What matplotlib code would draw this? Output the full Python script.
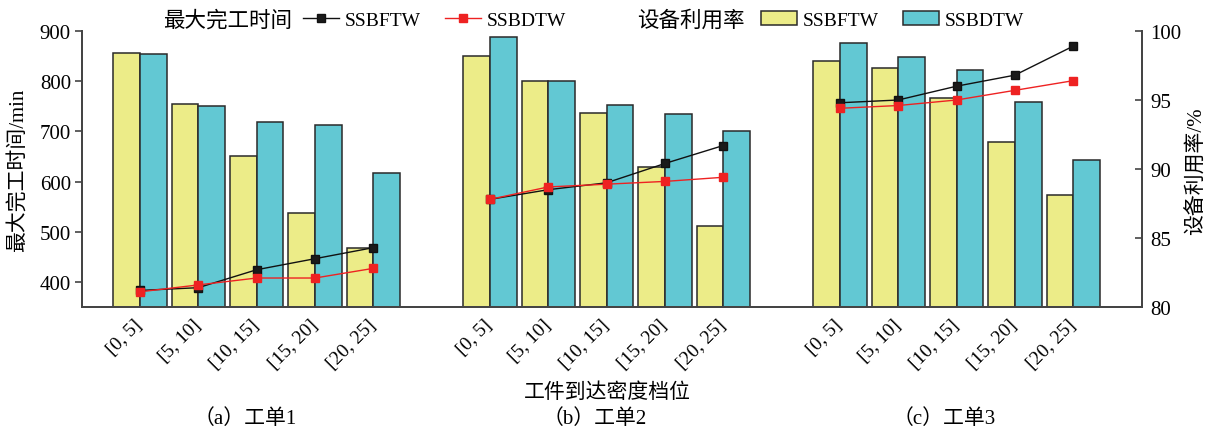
import matplotlib
matplotlib.use('Agg')
import matplotlib.pyplot as plt
from matplotlib.lines import Line2D
from matplotlib.patches import Patch
import numpy as np

plt.rcParams['font.family'] = ['Liberation Serif', 'Noto Sans CJK SC']
plt.rcParams['font.size'] = 14

categories = ['[0, 5]', '[5, 10]', '[10, 15]', '[15, 20]', '[20, 25]']
orders = ['（a）工单1', '（b）工单2', '（c）工单3']
series_names = ['SSBFTW', 'SSBDTW']

makespan_ssbftw = [[856, 755, 651, 537, 468],
                   [851, 800, 736, 628, 512],
                   [841, 826, 766, 678, 573]]
makespan_ssbdtw = [[855, 751, 718, 713, 618],
                   [889, 801, 752, 734, 700],
                   [877, 849, 822, 759, 643]]
util_ssbftw = [[81.2, 81.4, 82.7, 83.5, 84.3],
               [87.8, 88.5, 89.0, 90.4, 91.7],
               [94.8, 95.0, 96.0, 96.8, 98.9]]
util_ssbdtw = [[81.1, 81.6, 82.1, 82.1, 82.8],
               [87.8, 88.7, 88.9, 89.1, 89.4],
               [94.4, 94.6, 95.0, 95.7, 96.4]]

W, H = 1212, 431
fig = plt.figure(figsize=(W / 100, H / 100), dpi=100)
ax = fig.add_axes([82 / W, 1 - 308 / H, (1142 - 82) / W, (308 - 32) / H])
ax2 = ax.twinx()

yellow = '#ECEC88'
blue = '#62C8D3'
edge = '#2a2a2a'
spc = '#444444'
bw = 0.457
ms = 5.5

xticks, xlabels = [], []
for g in range(3):
    x = np.arange(5) + g * 6
    ax.bar(x - bw / 2, makespan_ssbftw[g], width=bw, color=yellow, edgecolor=edge, linewidth=1.1, zorder=2)
    ax.bar(x + bw / 2, makespan_ssbdtw[g], width=bw, color=blue, edgecolor=edge, linewidth=1.1, zorder=2)
    ax2.plot(x, util_ssbftw[g], color='#111111', lw=1.0, marker='s', ms=ms, mec='#111111', mfc='#1a1a1a', zorder=3)
    ax2.plot(x, util_ssbdtw[g], color='#EE2222', lw=1.0, marker='s', ms=ms, mec='#EE2222', mfc='#EE2222', zorder=4)
    xticks.extend(x)
    xlabels.extend(categories)

ax.set_xlim(-0.994, 17.18)
ax.set_ylim(350, 900)
ax.set_yticks([400, 500, 600, 700, 800, 900])
ax2.set_ylim(80, 100)
ax2.set_yticks([80, 85, 90, 95, 100])

ax.set_xticks(xticks)
ax.set_xticklabels(xlabels, rotation=45, ha='right', va='center', rotation_mode='anchor')
ax.tick_params(axis='x', length=0, pad=11, labelsize=14)
ax.tick_params(axis='y', direction='out', length=5, width=1.2, color=spc, labelsize=15, pad=3)
ax2.tick_params(axis='y', direction='in', length=5, width=1.2, color=spc, labelsize=15, pad=6)

for a in (ax, ax2):
    a.spines['top'].set_visible(False)
    for s in ('left', 'right', 'bottom'):
        a.spines[s].set_color(spc)
        a.spines[s].set_linewidth(1.3)

fig.text(18 / W, 1 - 170 / H, '最大完工时间/min', rotation=90, ha='center', va='center', fontsize=15)
fig.text(1197 / W, 1 - 171 / H, '设备利用率/%', rotation=90, ha='center', va='center', fontsize=15)
fig.text(607 / W, 1 - 393 / H, '工件到达密度档位', ha='center', va='center', fontsize=15)
for g, name in enumerate(orders):
    cx = 140 + (g * 6 + 2) * 58.33 - 12
    fig.text(cx / W, 1 - 419 / H, name, ha='center', va='center', fontsize=15)

ly = 1 - 21 / H
fig.text(163 / W, ly, '最大完工时间', ha='left', va='center', fontsize=15.5)
fig.text(637 / W, ly, '设备利用率', ha='left', va='center', fontsize=15.5)

h1 = [Line2D([], [], color='#111111', lw=1.0, marker='s', ms=ms, mfc='#1a1a1a', mec='#111111'),
      Line2D([], [], color='#EE2222', lw=1.0, marker='s', ms=ms, mfc='#EE2222', mec='#EE2222')]
h2 = [Patch(facecolor=yellow, edgecolor=edge, linewidth=1.1),
      Patch(facecolor=blue, edgecolor=edge, linewidth=1.1)]
common = dict(loc='center left', bbox_transform=fig.transFigure, frameon=False, ncol=2,
              borderpad=0, borderaxespad=0, handlelength=1.85, handletextpad=0.3,
              columnspacing=1.25, fontsize=14)
fig.legend(h1, series_names, bbox_to_anchor=(303 / W, ly), **common)
fig.legend(h2, series_names, bbox_to_anchor=(761 / W, ly), **common)

fig.savefig('out.png', dpi=100)
